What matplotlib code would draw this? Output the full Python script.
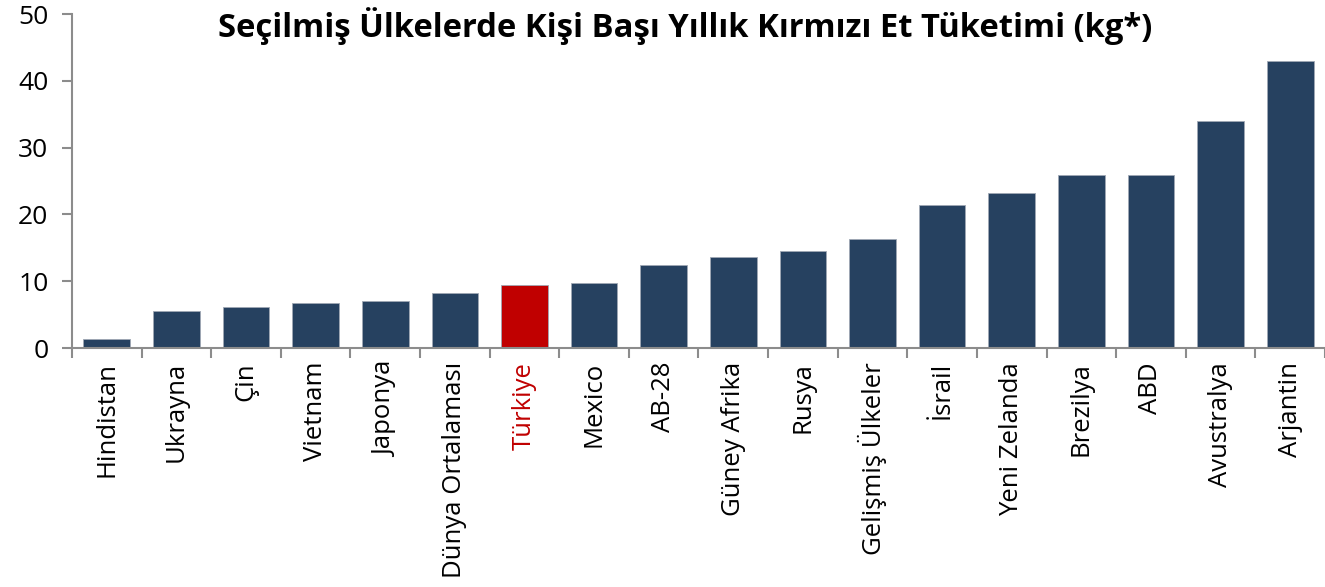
import numpy as np
import matplotlib.pyplot as plt

plt.rcParams['font.family'] = ['Open Sans', 'DejaVu Sans']

# ulkeler ve kisi basi kirmizi et tuketimi (kg)
ulkeler = ["Hindistan", "Ukrayna", "Çin", "Vietnam", "Japonya", "Dünya Ortalaması",
           "Türkiye", "Mexico", "AB-28", "Güney Afrika", "Rusya", "Gelişmiş Ülkeler",
           "İsrail", "Yeni Zelanda", "Brezilya", "ABD", "Avustralya", "Arjantin"]
tuketim = [1.35, 5.5, 6.1, 6.7, 7.0, 8.2, 9.4, 9.7, 12.4, 13.6, 14.5, 16.3,
           21.4, 23.2, 25.9, 25.9, 34.0, 43.0]
vurgu = "Türkiye"
yticks = [0, 10, 20, 30, 40, 50]

lacivert = "#264160"
kirmizi = "#c00000"
gri = "#8c8c8c"

fig = plt.figure(figsize=(13.25, 5.87), dpi=100)
ax = fig.add_axes([0.0543, 0.407, 0.9457, 0.569])

x = np.arange(len(ulkeler))
renkler = [kirmizi if u == vurgu else lacivert for u in ulkeler]
ax.bar(x, tuketim, width=0.67, color=renkler, edgecolor="#a0a8b4", linewidth=0.6, zorder=2)

ax.set_xlim(-0.5, len(ulkeler) - 0.5)
ax.set_ylim(0, 50)
ax.set_yticks(yticks)
ax.set_xticks(x)
ax.set_xticklabels(ulkeler, rotation=90, fontsize=18.5)
ax.set_xticks(np.arange(len(ulkeler) + 1) - 0.5, minor=True)
ax.tick_params(axis='x', which='major', length=0, pad=10)
ax.tick_params(axis='x', which='minor', length=7, width=1.5, color=gri, direction='out')
ax.tick_params(axis='y', length=7, width=1.5, color=gri, labelsize=19, pad=10)

for lbl in ax.get_xticklabels():
    if lbl.get_text() == vurgu:
        lbl.set_color(kirmizi)

for s in ["top", "right"]:
    ax.spines[s].set_visible(False)
for s in ["left", "bottom"]:
    ax.spines[s].set_color(gri)
    ax.spines[s].set_linewidth(1.5)

ax.set_title("Seçilmiş Ülkelerde Kişi Başı Yıllık Kırmızı Et Tüketimi (kg*)",
             fontsize=23.6, fontweight='bold', x=0.489, y=0.905)

fig.savefig("out.png", dpi=100)
